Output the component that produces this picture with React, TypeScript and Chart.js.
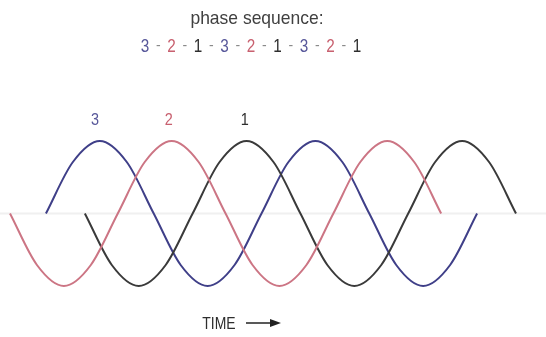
import React, { useEffect, useRef } from "react";
import { Chart, registerables } from "chart.js";

Chart.register(...registerables);

// Time axis in electrical degrees; each phase drawn over two cycles
const phase3Time = [60, 105, 150, 195, 240, 285, 330, 375, 420, 465, 510, 555, 600, 645, 690, 735, 780];
const phase3Values = [0, 0.71, 1, 0.71, 0, -0.71, -1, -0.71, 0, 0.71, 1, 0.71, 0, -0.71, -1, -0.71, 0];

const phase2Time = [0, 45, 90, 135, 180, 225, 270, 315, 360, 405, 450, 495, 540, 585, 630, 675, 720];
const phase2Values = [0, -0.71, -1, -0.71, 0, 0.71, 1, 0.71, 0, -0.71, -1, -0.71, 0, 0.71, 1, 0.71, 0];

const phase1Time = [125, 170, 215, 260, 305, 350, 395, 440, 485, 530, 575, 620, 665, 710, 755, 800, 845];
const phase1Values = [0, -0.71, -1, -0.71, 0, 0.71, 1, 0.71, 0, -0.71, -1, -0.71, 0, 0.71, 1, 0.71, 0];

const phaseLabels = ["3", "2", "1"];
const peakLabelTime = [142, 265, 392];
const sequence = ["3", "2", "1", "3", "2", "1", "3", "2", "1"];
const titleText = "phase sequence:";
const axisText = "TIME";

const BLUE = "#3f3f88";
const RED = "#cc7584";
const BLACK = "#3a3a3a";
const BLUE_TXT = "#57579a";
const RED_TXT = "#c8606f";
const BLACK_TXT = "#2e2e2e";

const colorFor = (d: string) => (d === "3" ? BLUE_TXT : d === "2" ? RED_TXT : BLACK_TXT);

const toPts = (xs: number[], ys: number[]) => xs.map((x, i) => ({ x, y: ys[i] }));

function drawText(ctx: CanvasRenderingContext2D, text: string, x: number, y: number, size: number, color: string, sx: number) {
  ctx.save();
  ctx.translate(x, y);
  ctx.scale(sx, 1);
  ctx.font = `${size}px "Liberation Sans", Arial, sans-serif`;
  ctx.fillStyle = color;
  ctx.textAlign = "center";
  ctx.textBaseline = "alphabetic";
  ctx.fillText(text, 0, 0);
  ctx.restore();
}

const decorPlugin = {
  id: "decor",
  beforeDatasetsDraw(chart: any) {
    const ctx = chart.ctx as CanvasRenderingContext2D;
    const y0 = chart.scales.y.getPixelForValue(0);
    ctx.save();
    ctx.strokeStyle = "#f0f0f0";
    ctx.lineWidth = 2;
    ctx.beginPath();
    ctx.moveTo(0, y0);
    ctx.lineTo(chart.width, y0);
    ctx.stroke();
    ctx.restore();
  },
  afterDraw(chart: any) {
    const ctx = chart.ctx as CanvasRenderingContext2D;
    const xs = chart.scales.x;
    // title
    drawText(ctx, titleText, 257, 24, 19, "#404040", 0.92);
    // sequence
    const start = 145;
    const step = 26.5;
    sequence.forEach((d, i) => {
      const cx = start + i * step;
      drawText(ctx, d, cx, 52, 18, colorFor(d), 0.85);
      if (i < sequence.length - 1) {
        drawText(ctx, "-", cx + step / 2, 50, 14, "#8a8a8a", 1);
      }
    });
    // peak labels
    phaseLabels.forEach((d, i) => {
      const px = xs.getPixelForValue(peakLabelTime[i]);
      drawText(ctx, d, px, 125, 17, colorFor(d), 0.85);
    });
    // TIME arrow
    drawText(ctx, axisText, 219, 329, 17, BLACK_TXT, 0.82);
    ctx.save();
    ctx.strokeStyle = "#222";
    ctx.fillStyle = "#222";
    ctx.lineWidth = 1.5;
    ctx.beginPath();
    ctx.moveTo(246, 323);
    ctx.lineTo(272, 323);
    ctx.stroke();
    ctx.beginPath();
    ctx.moveTo(281, 323);
    ctx.lineTo(270, 319);
    ctx.lineTo(270, 327);
    ctx.closePath();
    ctx.fill();
    ctx.restore();
  },
};

export default function App() {
  const ref = useRef<HTMLCanvasElement | null>(null);
  useEffect(() => {
    if (!ref.current) return;
    const mk = (label: string, xs: number[], ys: number[], color: string) => ({
      label,
      data: toPts(xs, ys),
      borderColor: color,
      borderWidth: 2,
      pointRadius: 0,
      fill: false,
      cubicInterpolationMode: "monotone" as const,
      clip: 4,
    });
    const chart = new Chart(ref.current, {
      type: "line",
      data: {
        datasets: [
          mk("2", phase2Time, phase2Values, RED),
          mk("1", phase1Time, phase1Values, BLACK),
          mk("3", phase3Time, phase3Values, BLUE),
        ],
      },
      options: {
        animation: false,
        responsive: false,
        maintainAspectRatio: false,
        layout: { padding: { left: 10, right: 30, top: 141, bottom: 51 } },
        plugins: { legend: { display: false }, tooltip: { enabled: false }, title: { display: false } },
        scales: {
          x: { type: "linear", min: 0, max: 845, display: false },
          y: { min: -1, max: 1, display: false },
        },
      },
      plugins: [decorPlugin],
    });
    return () => chart.destroy();
  }, []);
  return (
    <div style={{ position: "fixed", left: 0, top: 0, width: 546, height: 337, background: "#fff" }}>
      <canvas ref={ref} width={546} height={337} style={{ display: "block" }} />
    </div>
  );
}
